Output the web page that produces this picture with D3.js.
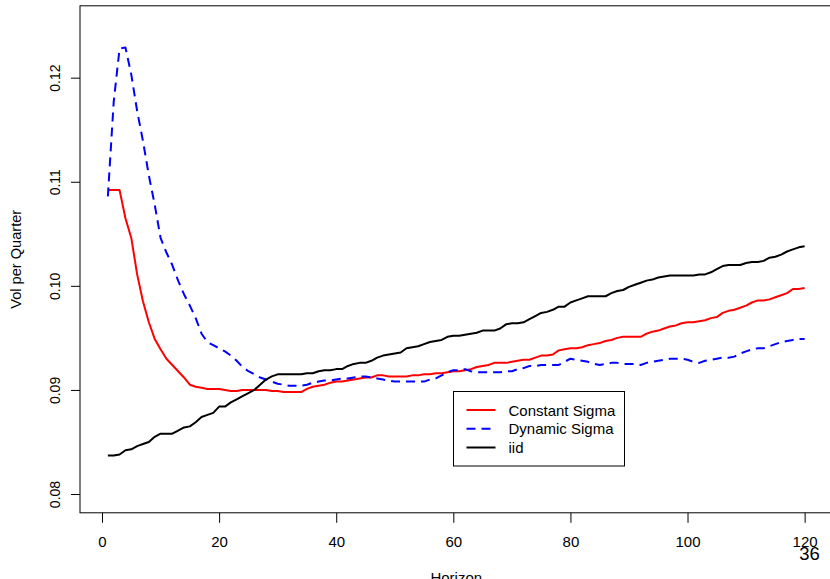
<!DOCTYPE html>
<html>
<head>
<meta charset="utf-8">
<script src="https://cdn.jsdelivr.net/npm/d3@7/dist/d3.min.js"></script>
<style>
  html, body { margin: 0; padding: 0; background: #fff; overflow: hidden; }
  svg { display: block; }
  text { font-family: "Liberation Sans", Arial, Helvetica, sans-serif; fill: #000; }
</style>
</head>
<body>
<svg id="chart" width="830" height="579"></svg>
<script>
// Volatility per quarter by investment horizon (quarters 1..120)
const constantSigma = [
  0.1092, 0.1092, 0.1092, 0.1065, 0.1046, 0.1011, 0.0985, 0.0965, 0.0949, 0.0939,
  0.0930, 0.0924, 0.0918, 0.0912, 0.0905, 0.0903, 0.0902, 0.0901, 0.0901, 0.0901,
  0.0900, 0.0899, 0.0899, 0.0900, 0.0900, 0.0900, 0.0900, 0.0900, 0.0899, 0.0899,
  0.0898, 0.0898, 0.0898, 0.0898, 0.0901, 0.0903, 0.0904, 0.0905, 0.0907, 0.0908,
  0.0908, 0.0909, 0.0910, 0.0911, 0.0912, 0.0912, 0.0914, 0.0914, 0.0913, 0.0913,
  0.0913, 0.0913, 0.0914, 0.0914, 0.0915, 0.0915, 0.0916, 0.0916, 0.0917, 0.0918,
  0.0918, 0.0919, 0.0920, 0.0922, 0.0923, 0.0924, 0.0926, 0.0926, 0.0926, 0.0927,
  0.0928, 0.0929, 0.0929, 0.0931, 0.0933, 0.0933, 0.0934, 0.0938, 0.0939, 0.0940,
  0.0940, 0.0941, 0.0943, 0.0944, 0.0945, 0.0947, 0.0948, 0.0950, 0.0951, 0.0951,
  0.0951, 0.0951, 0.0954, 0.0956, 0.0957, 0.0959, 0.0961, 0.0962, 0.0964, 0.0965,
  0.0965, 0.0966, 0.0967, 0.0969, 0.0970, 0.0974, 0.0976, 0.0977, 0.0979, 0.0981,
  0.0984, 0.0986, 0.0986, 0.0987, 0.0989, 0.0991, 0.0993, 0.0997, 0.0997, 0.0998
];

const dynamicSigma = [
  0.1086, 0.1177, 0.1228, 0.1229, 0.1203, 0.1168, 0.1139, 0.1106, 0.1078, 0.1046,
  0.1032, 0.1020, 0.1005, 0.0992, 0.0981, 0.0969, 0.0954, 0.0946, 0.0943, 0.0940,
  0.0937, 0.0933, 0.0928, 0.0922, 0.0918, 0.0915, 0.0912, 0.0910, 0.0908, 0.0906,
  0.0905, 0.0904, 0.0904, 0.0904, 0.0905, 0.0907, 0.0908, 0.0909, 0.0909, 0.0910,
  0.0911, 0.0911, 0.0912, 0.0913, 0.0913, 0.0912, 0.0911, 0.0910, 0.0909, 0.0908,
  0.0908, 0.0908, 0.0908, 0.0908, 0.0908, 0.0910, 0.0911, 0.0914, 0.0917, 0.0919,
  0.0919, 0.0920, 0.0918, 0.0917, 0.0917, 0.0917, 0.0917, 0.0917, 0.0918, 0.0918,
  0.0920, 0.0921, 0.0923, 0.0923, 0.0924, 0.0924, 0.0924, 0.0924, 0.0927, 0.0930,
  0.0929, 0.0928, 0.0927, 0.0925, 0.0924, 0.0925, 0.0926, 0.0926, 0.0925, 0.0925,
  0.0925, 0.0924, 0.0926, 0.0927, 0.0928, 0.0929, 0.0930, 0.0930, 0.0930, 0.0929,
  0.0927, 0.0926, 0.0928, 0.0929, 0.0930, 0.0931, 0.0931, 0.0932, 0.0935, 0.0937,
  0.0939, 0.0940, 0.0940, 0.0942, 0.0944, 0.0946, 0.0947, 0.0948, 0.0949, 0.0949
];

const iid = [
  0.0837, 0.0837, 0.0838, 0.0842, 0.0843, 0.0846, 0.0848, 0.0850, 0.0855, 0.0858,
  0.0858, 0.0858, 0.0861, 0.0864, 0.0865, 0.0869, 0.0874, 0.0876, 0.0878, 0.0884,
  0.0884, 0.0888, 0.0891, 0.0894, 0.0897, 0.0900, 0.0905, 0.0910, 0.0913, 0.0915,
  0.0915, 0.0915, 0.0915, 0.0915, 0.0916, 0.0916, 0.0918, 0.0919, 0.0919, 0.0920,
  0.0920, 0.0923, 0.0925, 0.0926, 0.0926, 0.0928, 0.0931, 0.0933, 0.0934, 0.0935,
  0.0936, 0.0940, 0.0941, 0.0942, 0.0944, 0.0946, 0.0947, 0.0948, 0.0951, 0.0952,
  0.0952, 0.0953, 0.0954, 0.0955, 0.0957, 0.0957, 0.0957, 0.0959, 0.0963, 0.0964,
  0.0964, 0.0965, 0.0968, 0.0971, 0.0974, 0.0975, 0.0977, 0.0980, 0.0980, 0.0984,
  0.0986, 0.0988, 0.0990, 0.0990, 0.0990, 0.0990, 0.0993, 0.0995, 0.0996, 0.0999,
  0.1001, 0.1003, 0.1005, 0.1006, 0.1008, 0.1009, 0.1010, 0.1010, 0.1010, 0.1010,
  0.1010, 0.1011, 0.1011, 0.1013, 0.1016, 0.1019, 0.1020, 0.1020, 0.1020, 0.1022,
  0.1023, 0.1023, 0.1024, 0.1027, 0.1028, 0.1030, 0.1033, 0.1035, 0.1037, 0.1038
];

const seriesNames = ["Constant Sigma", "Dynamic Sigma", "iid"];
const xTicks = [0, 20, 40, 60, 80, 100, 120];
const yTicks = [0.08, 0.09, 0.10, 0.11, 0.12];
const xLimits = [1, 120];
const yLimits = [0.08, 0.1251];
const pageNumber = "36";

const series = [
  { name: seriesNames[0], values: constantSigma, color: "#ff0000", dash: null },
  { name: seriesNames[1], values: dynamicSigma, color: "#0000ff", dash: "9,6" },
  { name: seriesNames[2], values: iid, color: "#000000", dash: null }
];

// Plot region edges; the frame runs off the right edge of the page
const plot = { left: 80, top: 5.8, right: 832.5, bottom: 512.8 };

// Axis ranges padded by 4% on each side
function padded([a, b]) {
  const p = (b - a) * 0.04;
  return [a - p, b + p];
}

const x = d3.scaleLinear().domain(padded(xLimits)).range([plot.left, plot.right]);
const y = d3.scaleLinear().domain(padded(yLimits)).range([plot.bottom, plot.top]);

const svg = d3.select("#chart");

// Series lines
const line = d3.line()
  .x((d, i) => x(i + 1))
  .y(d => y(d));

svg.append("g")
  .selectAll("path")
  .data(series)
  .join("path")
  .attr("d", s => line(s.values))
  .attr("fill", "none")
  .attr("stroke", s => s.color)
  .attr("stroke-width", 2)
  .attr("stroke-linejoin", "round")
  .attr("stroke-linecap", "butt")
  .attr("stroke-dasharray", s => s.dash);

// Frame around the plot region
svg.append("rect")
  .attr("x", plot.left)
  .attr("y", plot.top)
  .attr("width", plot.right - plot.left)
  .attr("height", plot.bottom - plot.top)
  .attr("fill", "none")
  .attr("stroke", "#000")
  .attr("stroke-width", 1);

// Bottom axis
const xAxis = d3.axisBottom(x)
  .tickValues(xTicks)
  .tickSize(10)
  .tickPadding(8)
  .tickFormat(d3.format("d"));

const gx = svg.append("g")
  .attr("transform", `translate(0,${plot.bottom})`)
  .call(xAxis);
gx.select(".domain").remove();
gx.selectAll("line").attr("stroke", "#000");
gx.selectAll("text")
  .attr("font-size", 15)
  .attr("fill", "#000")
  .attr("dy", null)
  .attr("y", 34.3);

// Left axis with rotated labels
const yAxis = d3.axisLeft(y)
  .tickValues(yTicks)
  .tickSize(9)
  .tickFormat(d3.format(".2f"));

const gy = svg.append("g")
  .attr("transform", `translate(${plot.left},0)`)
  .call(yAxis);
gy.select(".domain").remove();
gy.selectAll("line").attr("stroke", "#000");
gy.selectAll("text")
  .attr("font-size", 14)
  .attr("fill", "#000")
  .attr("x", null)
  .attr("dy", null)
  .attr("text-anchor", "middle")
  .attr("transform", "translate(-20,0) rotate(-90)");

// Axis titles
svg.append("text")
  .attr("x", (plot.left + plot.right) / 2)
  .attr("y", 583)
  .attr("text-anchor", "middle")
  .attr("font-size", 15)
  .text("Horizon");

svg.append("text")
  .attr("transform", `translate(21,${(plot.top + plot.bottom) / 2}) rotate(-90)`)
  .attr("text-anchor", "middle")
  .attr("font-size", 14.6)
  .text("Vol per Quarter");

// Legend
const legend = svg.append("g").attr("transform", "translate(453.5,391.5)");
legend.append("rect")
  .attr("width", 171)
  .attr("height", 74.5)
  .attr("fill", "#fff")
  .attr("stroke", "#000")
  .attr("stroke-width", 1);

const rows = legend.selectAll("g.row")
  .data(series)
  .join("g")
  .attr("class", "row")
  .attr("transform", (d, i) => `translate(0,${18.5 + i * 18.75})`);

rows.append("line")
  .attr("x1", 13)
  .attr("x2", 42)
  .attr("stroke", d => d.color)
  .attr("stroke-width", 2)
  .attr("stroke-dasharray", d => d.dash);

rows.append("text")
  .attr("x", 55)
  .attr("y", 5.5)
  .attr("font-size", 15)
  .text(d => d.name);

// Slide page number
svg.append("text")
  .attr("x", 809.5)
  .attr("y", 560)
  .attr("text-anchor", "middle")
  .attr("font-size", 18.5)
  .text(pageNumber);
</script>
</body>
</html>
